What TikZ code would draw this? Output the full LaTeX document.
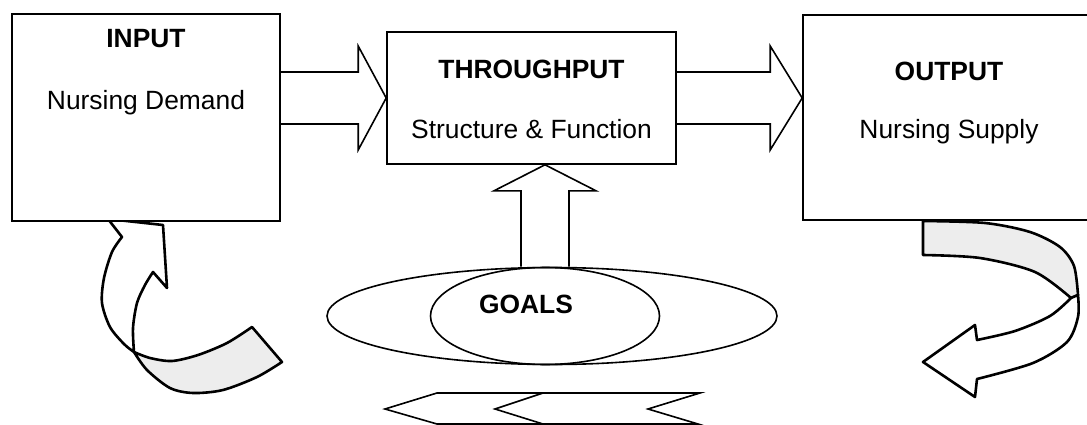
\documentclass[tikz,border=0pt]{standalone}
\usepackage{fontspec}
\setmainfont{Liberation Sans}
\usetikzlibrary{shapes.geometric,calc}

\begin{document}
\begin{tikzpicture}[x=1pt,y=-1pt,
    box/.style={draw,fill=white,line width=1.6pt,inner sep=0pt},
    title/.style={anchor=base,font=\fontsize{26.4}{31}\selectfont\bfseries},
    sub/.style={anchor=base,font=\fontsize{26.4}{31}\selectfont},
    blockarrow/.style={draw,line width=1.6pt,line join=miter},
    ribbon/.style={draw,fill=white,line width=2.6pt,line join=round},
    ribbonback/.style={draw,fill=gray!14,line width=2.6pt,line join=round},
    ring/.style={draw,ellipse,line width=1.6pt,inner sep=0pt}]
      \path[use as bounding box,clip] (0,0) rectangle (1087,425);

      % ribbon arrow under input
      \draw[ribbonback] plot[smooth] coordinates {(134,352) (150,358) (172,361) (198,355) (227,343) (252,327)}
            -- (282,362) -- plot[smooth] coordinates {(282,362) (257,377) (223,390) (193,393) (170,388) (147,370) (134,352)} -- cycle;
      \draw[ribbon] (108,219) -- (122,237)
            -- plot[smooth] coordinates {(122,237) (112,252) (104,278) (102,303) (110,327) (124,344) (134,352)}
            -- plot[smooth] coordinates {(134,352) (133,328) (137,303) (145,285) (153,272)}
            -- (167,288) -- (163,225) -- cycle;

      % ribbon arrow under output
      \draw[ribbonback] plot[smooth] coordinates {(923,221) (985,223) (1030,232) (1060,247) (1074,266) (1078,295)}
            -- (1071,298) -- plot[smooth] coordinates {(1071,298) (1035,272) (980,258) (923,255)} -- cycle;
      \draw[ribbon] plot[smooth] coordinates {(1071,298) (1050,316) (1015,331) (977,340)}
            -- (975,325) -- (923,362) -- (975,397) -- (977,379)
            -- plot[smooth] coordinates {(977,379) (1033,363) (1067,342) (1078,317) (1078,295)} -- cycle;

      % the three boxes
      \node[box,minimum width=268,minimum height=207] (input) at (146,117.5) {};
      \node[box,minimum width=289,minimum height=132] (throughput) at (531.5,98) {};
      \node[box,minimum width=292,minimum height=205] (output) at (949,117.5) {};

      \node[title] (inputtitle) at ($(input.north)+(0,34)$) {INPUT};
      \node[sub] (inputsub) at ($(input.north)+(0,96)$) {Nursing Demand};
      \node[title] (throughputtitle) at ($(throughput.north)+(0,47)$) {THROUGHPUT};
      \node[sub] (throughputsub) at ($(throughput.north)+(0,107)$) {Structure \& Function};
      \node[title] (outputtitle) at ($(output.north)+(0,66)$) {OUTPUT};
      \node[sub] (outputsub) at ($(output.north)+(0,124)$) {Nursing Supply};

      % goals
      \node[ring,minimum width=450,minimum height=97] (goalsring) at (552,316) {};
      \node[ring,minimum width=229,minimum height=97] (goals) at (545,316) {};
      \node[title] (goalstext) at ($(goals.center)+(-19,-3)$) {GOALS};

      % block arrows
      \draw[blockarrow] ($(input.east|-throughput.west)+(0,-26)$) -- ($(throughput.west)+(-28,-26)$)
            -- ($(throughput.west)+(-28,-52)$) -- (throughput.west) -- ($(throughput.west)+(-28,52)$)
            -- ($(throughput.west)+(-28,26)$) -- ($(input.east|-throughput.west)+(0,26)$);
      \draw[blockarrow] ($(throughput.east)+(0,-26)$) -- ($(output.west|-throughput.east)+(-32,-26)$)
            -- ($(output.west|-throughput.east)+(-32,-52)$) -- (output.west|-throughput.east)
            -- ($(output.west|-throughput.east)+(-32,52)$) -- ($(output.west|-throughput.east)+(-32,26)$)
            -- ($(throughput.east)+(0,26)$);
      \draw[blockarrow] ($(goals.north)+(-24,0)$) -- ($(goals.north|-throughput.south)+(-24,26)$)
            -- ($(goals.north|-throughput.south)+(-51,26)$) -- (goals.north|-throughput.south)
            -- ($(goals.north|-throughput.south)+(51,26)$) -- ($(goals.north|-throughput.south)+(24,26)$)
            -- ($(goals.north)+(24,0)$);

      % chevrons at the bottom
      \draw[blockarrow,fill=white] (385,409) -- (437,393) -- (600,393) -- (600,424) -- (437,424) -- cycle;
      \draw[blockarrow,fill=white] (495,409) -- (543,393) -- (700,393) -- (648,409) -- (698,424) -- (543,424) -- cycle;
\end{tikzpicture}
\end{document}
